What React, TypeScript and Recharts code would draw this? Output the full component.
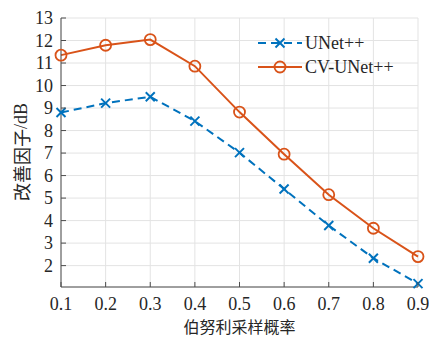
import React from 'react';
import { LineChart, Line, XAxis, YAxis, CartesianGrid, Legend } from 'recharts';

const probs = [0.1, 0.2, 0.3, 0.4, 0.5, 0.6, 0.7, 0.8, 0.9];
const unetpp = [8.8, 9.22, 9.5, 8.42, 7.02, 5.4, 3.78, 2.33, 1.2];
const cvUnetpp = [11.35, 11.79, 12.04, 10.86, 8.82, 6.95, 5.15, 3.66, 2.4];
const yTicks = [2, 3, 4, 5, 6, 7, 8, 9, 10, 11, 12, 13];
const seriesNames = ['UNet++', 'CV-UNet++'];

const data = probs.map((p, i) => ({ p, a: unetpp[i], b: cvUnetpp[i] }));

const BLUE = '#0072BD';
const ORANGE = '#D95319';
const AXIS = '#4d4d4d';
const TXT = '#262626';
const SERIF = '"Liberation Serif", "Times New Roman", serif';
const CJK = '"Noto Sans CJK SC", sans-serif';

const XTickBottom = (props: any) => {
  const { x, y, payload } = props;
  return (
    <g>
      <line x1={x} y1={y} x2={x} y2={y - 5} stroke={AXIS} strokeWidth={1} />
      <text x={x} y={y + 23} textAnchor="middle" fontFamily={SERIF} fontSize={18} fill={TXT}>
        {payload.value.toFixed(1)}
      </text>
    </g>
  );
};
const XTickTop = (props: any) => {
  const { x, y } = props;
  return <line x1={x} y1={y} x2={x} y2={y + 5} stroke={AXIS} strokeWidth={1} />;
};
const YTickLeft = (props: any) => {
  const { x, y, payload } = props;
  return (
    <g>
      <line x1={x} y1={y} x2={x + 5} y2={y} stroke={AXIS} strokeWidth={1} />
      <text x={x - 8} y={y + 6} textAnchor="end" fontFamily={SERIF} fontSize={18} fill={TXT}>
        {payload.value}
      </text>
    </g>
  );
};
const YTickRight = (props: any) => {
  const { x, y } = props;
  return <line x1={x} y1={y} x2={x - 5} y2={y} stroke={AXIS} strokeWidth={1} />;
};

const XMark = (props: any) => {
  const { cx, cy } = props;
  if (cx == null || cy == null) return null;
  const s = 4.5;
  return (
    <g>
      <line x1={cx - s} y1={cy - s} x2={cx + s} y2={cy + s} stroke={BLUE} strokeWidth={2} />
      <line x1={cx - s} y1={cy + s} x2={cx + s} y2={cy - s} stroke={BLUE} strokeWidth={2} />
    </g>
  );
};
const OMark = (props: any) => {
  const { cx, cy } = props;
  if (cx == null || cy == null) return null;
  return <circle cx={cx} cy={cy} r={5.5} fill="none" stroke={ORANGE} strokeWidth={1.8} />;
};

const LegendContent = () => (
  <svg width={175} height={50}>
    <line x1={3} y1={13} x2={47} y2={13} stroke={BLUE} strokeWidth={2} strokeDasharray="8 5" />
    <XMark cx={25} cy={13} />
    <text x={50} y={19} fontFamily={SERIF} fontSize={18} fill={TXT}>{seriesNames[0]}</text>
    <line x1={3} y1={37} x2={47} y2={37} stroke={ORANGE} strokeWidth={2} />
    <OMark cx={25} cy={37} />
    <text x={50} y={43} fontFamily={SERIF} fontSize={18} fill={TXT}>{seriesNames[1]}</text>
  </svg>
);

const YLabel = () => {
  const cy = 152;
  const cx = 21;
  return (
    <text
      x={cx}
      y={cy}
      transform={`rotate(-90 ${cx} ${cy})`}
      textAnchor="middle"
      dominantBaseline="central"
      fontFamily={CJK}
      fontSize={18}
      fill={TXT}
    >
      改善因子<tspan fontFamily={SERIF}>/dB</tspan>
    </text>
  );
};

export default function App() {
  return (
    <div style={{ position: 'absolute', left: 0, top: 0, background: '#fff' }}>
      <LineChart width={429} height={338} data={data} margin={{ top: 18, right: 11, left: 0, bottom: 0 }}>
        <CartesianGrid stroke="#e3e3e3" strokeWidth={1} />
        <XAxis
          dataKey="p"
          type="number"
          domain={[0.1, 0.9]}
          ticks={probs}
          height={51}
          tickSize={0}
          tickMargin={0}
          tickLine={false}
          axisLine={{ stroke: AXIS }}
          tick={<XTickBottom />}
          interval={0}
        />
        <XAxis
          xAxisId="top"
          dataKey="p"
          type="number"
          orientation="top"
          domain={[0.1, 0.9]}
          ticks={probs}
          height={0}
          tickSize={0}
          tickMargin={0}
          tickLine={false}
          axisLine={{ stroke: AXIS }}
          tick={<XTickTop />}
          interval={0}
        />
        <YAxis
          type="number"
          domain={[1.05, 13]}
          ticks={yTicks}
          width={61}
          tickSize={0}
          tickMargin={0}
          tickLine={false}
          axisLine={{ stroke: AXIS }}
          tick={<YTickLeft />}
          interval={0}
          label={{ content: <YLabel /> }}
        />
        <YAxis
          yAxisId="right"
          orientation="right"
          type="number"
          domain={[1.05, 13]}
          ticks={yTicks}
          width={0}
          tickSize={0}
          tickMargin={0}
          tickLine={false}
          axisLine={{ stroke: AXIS }}
          tick={<YTickRight />}
          interval={0}
        />
        <Line
          type="linear"
          dataKey="a"
          name={seriesNames[0]}
          stroke={BLUE}
          strokeWidth={2}
          strokeDasharray="8 5"
          dot={<XMark />}
          activeDot={false}
          isAnimationActive={false}
        />
        <Line
          type="linear"
          dataKey="b"
          name={seriesNames[1]}
          stroke={ORANGE}
          strokeWidth={2}
          dot={<OMark />}
          activeDot={false}
          isAnimationActive={false}
        />
        <Legend
          layout="vertical"
          align="center"
          verticalAlign="middle"
          wrapperStyle={{ left: 255, top: 30, width: 175, height: 50 }}
          content={<LegendContent />}
        />
      </LineChart>
      <div
        style={{
          position: 'absolute',
          left: 61,
          width: 357,
          top: 314,
          textAlign: 'center',
          fontFamily: CJK,
          fontSize: 16,
          color: TXT,
          lineHeight: '24px',
        }}
      >
        伯努利采样概率
      </div>
    </div>
  );
}
